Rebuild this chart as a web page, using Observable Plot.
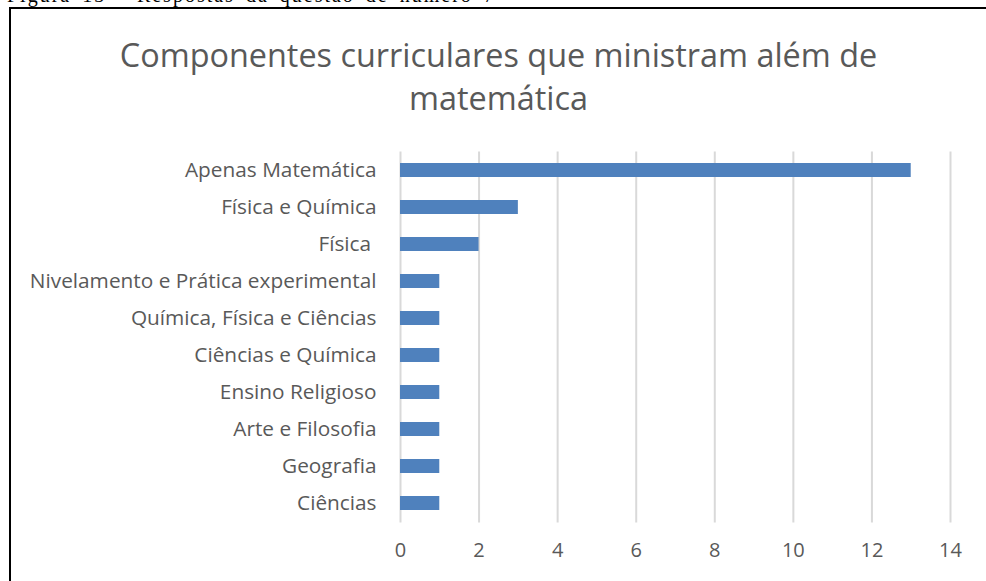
<!DOCTYPE html>
<html>
<head>
<meta charset="utf-8">
<script src="https://cdn.jsdelivr.net/npm/d3@7"></script>
<script src="https://cdn.jsdelivr.net/npm/@observablehq/plot@0.6"></script>
<style>
  html, body { margin: 0; padding: 0; background: #fff; overflow: hidden; }
  body { width: 986px; height: 581px; position: relative; }
  #fig { position: absolute; left: 7px; top: -15px; font-family: "Liberation Serif", "Times New Roman", serif; font-size: 20px; line-height: 20px; letter-spacing: 2px; word-spacing: 4px; color: #000; white-space: nowrap; }
  #frame { position: absolute; left: 9px; top: 7px; width: 1100px; height: 700px; border-left: 2px solid #000; border-top: 2px solid #000; }
  #title { position: absolute; left: 11px; width: 975px; top: 33px; text-align: center; font-family: "Open Sans", sans-serif; font-size: 32.4px; line-height: 43px; color: #595959; }
  #chart { position: absolute; left: 0; top: 120px; }
</style>
</head>
<body>
<div id="fig">Figura 13 - Respostas da questão de número 7</div>
<div id="frame"></div>
<div id="title">Componentes curriculares que ministram além de<br>matemática</div>
<div id="chart"></div>
<script>
const categories = [
  "Apenas Matemática",
  "Física e Química",
  "Física\u00a0",
  "Nivelamento e Prática experimental",
  "Química, Física e Ciências",
  "Ciências e Química",
  "Ensino Religioso",
  "Arte e Filosofia",
  "Geografia",
  "Ciências"
];
const values = [13, 3, 2, 1, 1, 1, 1, 1, 1, 1];
const xTicks = [0, 2, 4, 6, 8, 10, 12, 14];

const data = categories.map((c, i) => ({category: c, value: values[i]}));

const chart = Plot.plot({
  width: 986,
  height: 461,
  marginTop: 31.5,
  marginBottom: 58.5,
  marginLeft: 400,
  marginRight: 36,
  style: {fontFamily: "'Open Sans', sans-serif", fontSize: "18px", color: "#595959", background: "transparent"},
  x: {domain: [0, 14], ticks: xTicks, label: null},
  y: {domain: categories, label: null, paddingInner: 0.62, paddingOuter: 0.31},
  marks: [
    Plot.gridX(xTicks, {stroke: "#d9d9d9", strokeOpacity: 1, strokeWidth: 2}),
    Plot.barX(data, {x: "value", y: "category", fill: "#4f81bd"}),
    Plot.axisX({ticks: xTicks, tickSize: 0, tickPadding: 20, fontSize: 20, fill: "#595959", label: null}),
    Plot.axisY({tickSize: 0, tickPadding: 24, fontSize: 20.8, fill: "#595959", label: null})
  ]
});
document.getElementById("chart").appendChild(chart);
</script>
</body>
</html>
